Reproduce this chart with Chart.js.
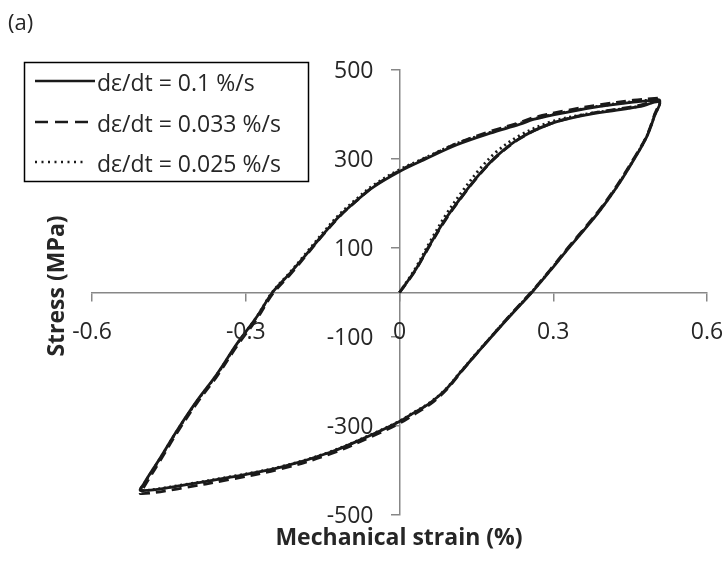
<!DOCTYPE html>
<html>
<head>
<meta charset="utf-8">
<script src="https://cdn.jsdelivr.net/npm/chart.js@4.4.1/dist/chart.umd.min.js"></script>
<style>
  html, body { margin: 0; padding: 0; background: #ffffff; }
  #wrap { width: 728px; height: 563px; position: relative; }
</style>
</head>
<body>
<div id="wrap"><canvas id="c" width="728" height="563"></canvas></div>
<script>
// ---------- data ----------
const seriesLabels = ['dε/dt = 0.1 %/s', 'dε/dt = 0.033 %/s', 'dε/dt = 0.025 %/s'];

// mechanical strain (%) – initial loading, unloading, reloading
const strain = [
  0, 0.02, 0.034, 0.06, 0.092, 0.125, 0.157, 0.19, 0.235, 0.294, 0.359, 0.424, 0.47, 0.507,
  0.498, 0.482, 0.456, 0.424, 0.391, 0.359, 0.326, 0.294, 0.258, 0.226, 0.196, 0.156, 0.12, 0.092, 0.06, 0.027, 0, -0.051, -0.135, -0.233, -0.33, -0.427, -0.505,
  -0.499, -0.466, -0.434, -0.395, -0.356, -0.317, -0.278, -0.248, -0.213, -0.181, -0.148, -0.116, -0.083, -0.051, 0, 0.047, 0.112, 0.177, 0.235, 0.261, 0.326, 0.391, 0.456, 0.505
];

// stress (MPa), 0.1 %/s
const stressFast = [
  0, 32, 56, 109, 169, 221, 267, 307, 347, 379, 398, 410, 418, 428,
  398, 349, 296, 237, 184, 139, 94, 49, 0, -40, -78, -130, -178, -216, -248, -271, -290, -318, -359, -393, -415, -434, -445,
  -430, -370, -310, -243, -183, -115, -54, 0, 44, 87, 132, 173, 207, 237, 272, 298, 332, 358, 378, 389, 405, 418, 428, 433
];

// stress (MPa), 0.033 %/s
const stressMid = [
  0, 31, 55, 107, 167, 220, 266, 306, 346, 379, 399, 412, 421, 433,
  401, 351, 299, 240, 187, 142, 97, 51, 2, -38, -77, -130, -179, -218, -251, -275, -294, -322, -363, -397, -420, -440, -452,
  -438, -376, -315, -248, -188, -120, -59, -4, 41, 85, 131, 172, 207, 238, 274, 300, 335, 362, 382, 393, 409, 422, 432, 437
];

// stress (MPa), 0.025 %/s
const stressSlow = [
  0, 34, 60, 115, 177, 231, 278, 317, 353, 383, 400, 411, 419, 429,
  399, 350, 297, 238, 185, 140, 95, 50, 1, -39, -77, -129, -177, -215, -247, -270, -289, -317, -358, -392, -414, -433, -445,
  -431, -371, -311, -244, -184, -116, -54, 1, 46, 90, 136, 177, 211, 241, 276, 301, 335, 360, 380, 390, 406, 419, 429, 434
];

const xTicks = [-0.6, -0.3, 0, 0.3, 0.6];
const xTickLabels = ['-0.6', '-0.3', '0', '0.3', '0.6'];
const yTicks = [-500, -300, -100, 100, 300, 500];
const yTickLabels = ['-500', '-300', '-100', '100', '300', '500'];

const xTitle = 'Mechanical strain (%)';
const yTitle = 'Stress (MPa)';
const panelLabel = '(a)';

// ---------- styling ----------
const LINE = '#1a1a1a';
const TEXT = '#262626';
const AXIS = '#878787';
const FONT = '"Open Sans", "Liberation Sans", sans-serif';
const dashes = [[], [10, 6], [2, 3.5]];

function pts(ys) { return strain.map((x, i) => ({ x: x, y: ys[i] })); }

const overlay = {
  id: 'overlay',
  afterDraw(chart) {
    const ctx = chart.ctx;
    const xs = chart.scales.x, ys = chart.scales.y;
    const x0 = xs.getPixelForValue(0), y0 = ys.getPixelForValue(0);
    ctx.save();
    ctx.fillStyle = TEXT;

    // tick labels
    ctx.font = '23px ' + FONT;
    ctx.textBaseline = 'alphabetic';
    ctx.textAlign = 'center';
    xTicks.forEach((v, i) => ctx.fillText(xTickLabels[i], xs.getPixelForValue(v), y0 + 46));
    ctx.textAlign = 'right';
    yTicks.forEach((v, i) => ctx.fillText(yTickLabels[i], x0 - 26, ys.getPixelForValue(v) + 8));

    // panel label
    ctx.font = '22px ' + FONT;
    ctx.textAlign = 'left';
    ctx.fillText(panelLabel, 8, 30);

    // axis titles
    ctx.font = 'bold 23px ' + FONT;
    ctx.textAlign = 'center';
    ctx.fillText(xTitle, 399, 545);
    ctx.save();
    ctx.translate(64, 286);
    ctx.rotate(-Math.PI / 2);
    ctx.fillText(yTitle, 0, 0);
    ctx.restore();

    // legend
    ctx.strokeStyle = '#000';
    ctx.lineWidth = 1.5;
    ctx.strokeRect(24.5, 62.5, 284, 119);
    const rows = [81, 122, 162];
    const base = [91, 131.5, 171.5];
    ctx.font = '23px ' + FONT;
    ctx.textAlign = 'left';
    for (let i = 0; i < 3; i++) {
      ctx.beginPath();
      ctx.setLineDash(i === 0 ? [] : (i === 1 ? [13, 7] : [2, 4.5]));
      ctx.lineWidth = 2.5;
      ctx.strokeStyle = LINE;
      ctx.lineCap = 'butt';
      ctx.moveTo(35, rows[i]);
      ctx.lineTo(i === 2 ? 87 : 95, rows[i]);
      ctx.stroke();
      ctx.setLineDash([]);
      ctx.fillStyle = TEXT;
      ctx.fillText(seriesLabels[i], 97, base[i]);
    }
    ctx.restore();
  }
};

function build() {
  const stresses = [stressFast, stressMid, stressSlow];
  new Chart(document.getElementById('c'), {
    type: 'scatter',
    data: {
      datasets: stresses.map((s, i) => ({
        label: seriesLabels[i],
        data: pts(s),
        showLine: true,
        borderColor: LINE,
        borderWidth: 2.8,
        borderDash: dashes[i],
        pointRadius: 0,
        tension: 0.35,
        fill: false
      }))
    },
    options: {
      responsive: false,
      animation: false,
      layout: { padding: { left: 92, right: 21, top: 70, bottom: 48 } },
      plugins: { legend: { display: false }, tooltip: { enabled: false } },
      scales: {
        x: {
          type: 'linear',
          position: { y: 0 },
          min: -0.6, max: 0.6,
          afterBuildTicks: (s) => { s.ticks = xTicks.map(v => ({ value: v })); },
          ticks: { display: false },
          grid: { drawOnChartArea: false, drawTicks: true, tickLength: 8, color: AXIS, lineWidth: 1.5 },
          border: { display: true, color: AXIS, width: 1.5 }
        },
        y: {
          type: 'linear',
          position: { x: 0 },
          min: -500, max: 500,
          afterBuildTicks: (s) => { s.ticks = yTicks.map(v => ({ value: v })); },
          ticks: { display: false },
          grid: { drawOnChartArea: false, drawTicks: true, tickLength: 8, color: AXIS, lineWidth: 1.5 },
          border: { display: true, color: AXIS, width: 1.5 }
        }
      }
    },
    plugins: [overlay]
  });
}

Promise.all([
  document.fonts.load('23px "Open Sans"'),
  document.fonts.load('bold 23px "Open Sans"')
]).then(build, build);
</script>
</body>
</html>
